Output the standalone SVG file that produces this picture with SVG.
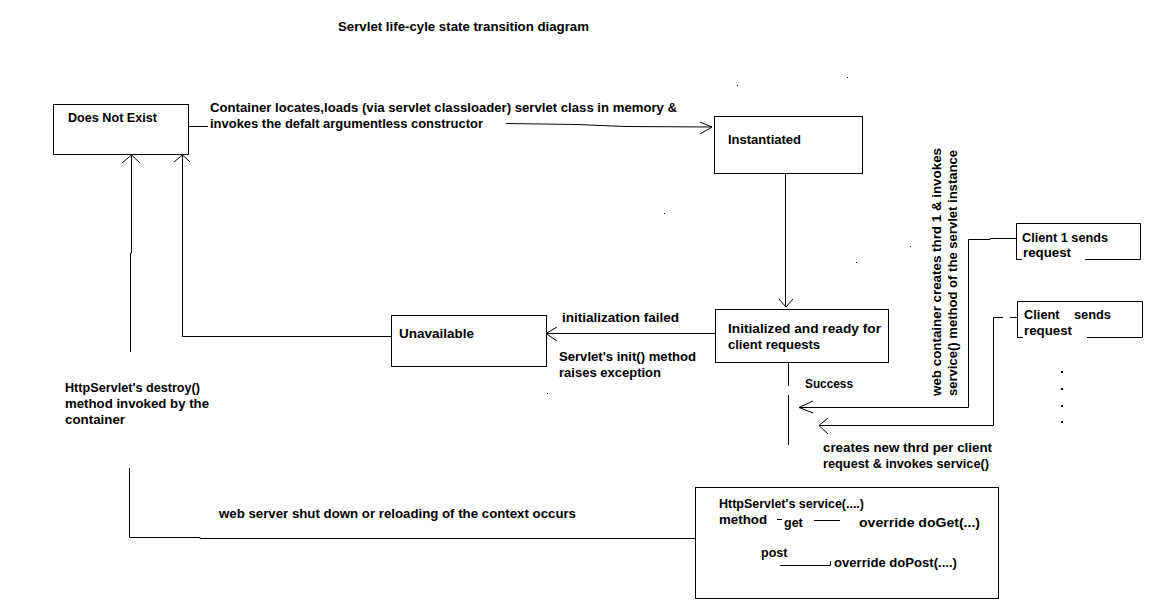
<svg xmlns="http://www.w3.org/2000/svg" width="1159" height="600" viewBox="0 0 1159 600">
<style>
text{font-family:"Liberation Sans",Arial,sans-serif;font-weight:bold;font-size:12.5px;fill:#000}
.box{fill:#fff;stroke:#000;stroke-width:1}
.ln{fill:none;stroke:#000;stroke-width:1}
.dot{fill:#000}
</style>
<rect width="1159" height="600" fill="#fff"/>
<text id="title" x="338" y="31" font-size="12" textLength="251" lengthAdjust="spacingAndGlyphs">Servlet life-cyle state transition diagram</text>

<g id="connectors" class="ln">
  <!-- Does Not Exist -> Instantiated -->
  <path d="M188.5 126.5H208"/>
  <path d="M506 123.5L577 124.5L625 126.5L712 127"/>
  <path d="M700 122L712 127L700 134"/>
  <!-- Instantiated -> Initialized -->
  <path d="M785.5 173V307"/>
  <path d="M779 299L786 307L793 299"/>
  <!-- Initialized -> Unavailable -->
  <path d="M715 333.5H546"/>
  <path d="M557 327L546 333.5L557 341"/>
  <!-- Unavailable -> Does Not Exist -->
  <path d="M391 336.5H182.5V155"/>
  <path d="M174 162L182.5 155L190 162"/>
  <!-- destroy path -->
  <path d="M131.5 155V253H130.5V352"/>
  <path d="M122 163L131.5 155L140 163"/>
  <path d="M129.5 468V537.5H200V538.5H368V538.5H535V538.5H695"/>
  <!-- success line -->
  <path d="M788.5 362V386"/>
  <path d="M788.5 395V445"/>
  <!-- Client 1 -> success -->
  <path d="M1016 238.5H990V239.5H968.5V407.5H799"/>
  <path d="M813 401L799 407.5L813 413"/>
  <!-- Client 2 -> success -->
  <path d="M1017 317.5H1010M1003 317.5H993.5V425.5H819"/>
  <path d="M828 418L819 425.5L828 434"/>
</g>

<g id="does-not-exist">
  <rect class="box" x="53.5" y="104.5" width="135" height="50"/>
  <text x="68" y="122" textLength="89" lengthAdjust="spacingAndGlyphs">Does Not Exist</text>
</g>

<g id="instantiated">
  <rect class="box" x="714.5" y="116.5" width="148" height="57"/>
  <text x="728" y="144" textLength="73" lengthAdjust="spacingAndGlyphs">Instantiated</text>
</g>

<g id="initialized">
  <rect class="box" x="715.5" y="309.5" width="173" height="53"/>
  <text x="728" y="333" textLength="153" lengthAdjust="spacingAndGlyphs">Initialized and ready for</text>
  <text x="728" y="349" textLength="92" lengthAdjust="spacingAndGlyphs">client requests</text>
</g>

<g id="unavailable">
  <rect class="box" x="391.5" y="315.5" width="155" height="51"/>
  <text x="399" y="338" textLength="75" lengthAdjust="spacingAndGlyphs">Unavailable</text>
</g>

<g id="client1">
  <path class="ln" d="M1016.5 223.5H1140.5V259.5H1085M1022 259.5H1016.5V223.5"/>
  <text x="1022" y="242" textLength="86" lengthAdjust="spacingAndGlyphs">Client 1 sends</text>
  <text x="1023" y="257" textLength="48" lengthAdjust="spacingAndGlyphs">request</text>
</g>

<g id="client2">
  <path class="ln" d="M1017.5 301.5H1142.5V337.5H1087M1023 337.5H1017.5V301.5"/>
  <text x="1024" y="319" xml:space="preserve" textLength="87" lengthAdjust="spacingAndGlyphs">Client    sends</text>
  <text x="1024" y="335" textLength="48" lengthAdjust="spacingAndGlyphs">request</text>
</g>

<g id="service-box">
  <rect class="box" x="695.5" y="487.5" width="303" height="111"/>
  <text x="719" y="508" font-size="12" textLength="145" lengthAdjust="spacingAndGlyphs">HttpServlet's service(....)</text>
  <text x="719" y="524" font-size="12" textLength="48" lengthAdjust="spacingAndGlyphs">method</text>
  <path class="ln" d="M777 519.5H782"/>
  <text x="784" y="527" font-size="12">get</text>
  <path class="ln" d="M814 520.5H840"/>
  <text x="859" y="527" font-size="12" textLength="121" lengthAdjust="spacingAndGlyphs">override doGet(...)</text>
  <text x="761" y="557" font-size="11">post</text>
  <path class="ln" d="M780 565.5H830.5V561"/>
  <text x="834" y="567" font-size="12" textLength="123" lengthAdjust="spacingAndGlyphs">override doPost(....)</text>
</g>

<g id="labels">
  <text x="210" y="112" textLength="467" lengthAdjust="spacingAndGlyphs">Container locates,loads (via servlet classloader) servlet class in memory &amp;</text>
  <text x="210" y="128" textLength="273" lengthAdjust="spacingAndGlyphs">invokes the defalt argumentless constructor</text>
  <text x="562" y="322" textLength="117" lengthAdjust="spacingAndGlyphs">initialization failed</text>
  <text x="559" y="361" textLength="137" lengthAdjust="spacingAndGlyphs">Servlet's init() method</text>
  <text x="559" y="377" textLength="102" lengthAdjust="spacingAndGlyphs">raises exception</text>
  <text x="805" y="388" textLength="48" lengthAdjust="spacingAndGlyphs">Success</text>
  <text x="823" y="452" textLength="169" lengthAdjust="spacingAndGlyphs">creates new thrd per client</text>
  <text x="823" y="468" textLength="166" lengthAdjust="spacingAndGlyphs">request &amp; invokes service()</text>
  <text x="65" y="392" textLength="135" lengthAdjust="spacingAndGlyphs">HttpServlet's destroy()</text>
  <text x="65" y="408" textLength="144" lengthAdjust="spacingAndGlyphs">method invoked by the</text>
  <text x="65" y="424" textLength="60" lengthAdjust="spacingAndGlyphs">container</text>
  <text x="219" y="518" textLength="357" lengthAdjust="spacingAndGlyphs">web server shut down or reloading of the context occurs</text>
  <text transform="translate(941 396) rotate(-90)" textLength="248" lengthAdjust="spacingAndGlyphs">web container creates thrd 1 &amp; invokes</text>
  <text transform="translate(957 396) rotate(-90)" textLength="246" lengthAdjust="spacingAndGlyphs">service() method of the servlet instance</text>
</g>

<g id="dots" class="dot">
  <rect x="1061" y="371" width="2" height="2"/>
  <rect x="1061" y="388" width="2" height="2"/>
  <rect x="1061" y="405" width="2" height="2"/>
  <rect x="1061" y="421" width="2" height="2"/>
  <rect x="737" y="85" width="1" height="1"/>
  <rect x="847" y="77" width="1" height="1"/>
  <rect x="664" y="213" width="1" height="1"/>
  <rect x="856" y="262" width="1" height="1"/>
  <rect x="910" y="246" width="1" height="1"/>
  <rect x="547" y="393" width="1" height="1"/>
</g>
</svg>
